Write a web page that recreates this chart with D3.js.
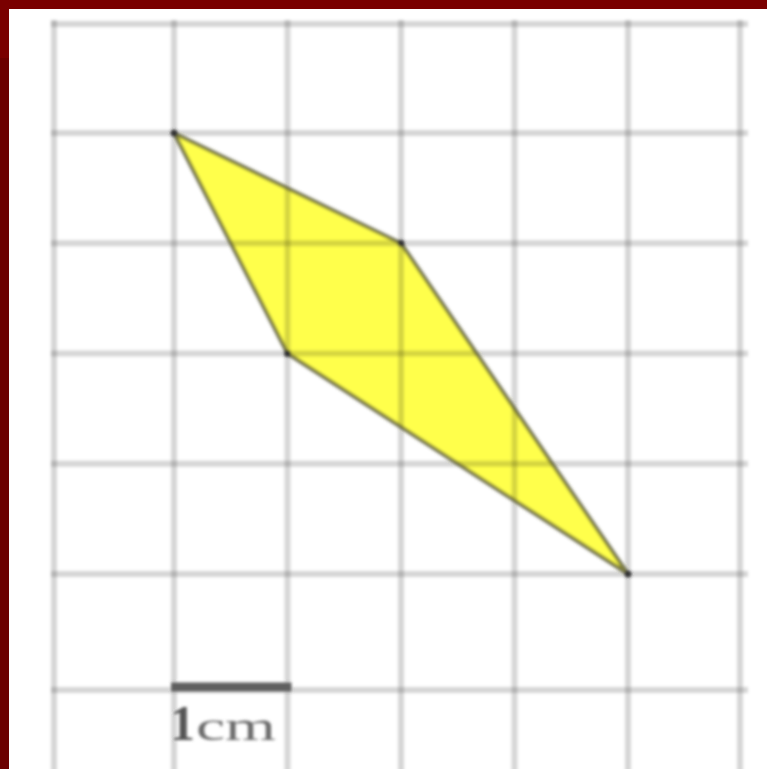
<!DOCTYPE html>
<html>
<head>
<meta charset="utf-8">
<script src="https://cdn.jsdelivr.net/npm/d3@7"></script>
<style>
  html, body { margin: 0; padding: 0; background: #fff; }
  svg { display: block; }
</style>
</head>
<body>
<div id="chartFrame"></div>
<script>
const width = 767
const height = 769
// grid positions in cm
const gridCols = [0, 1, 2, 3, 4, 5, 6]
const gridRows = [0, 1, 2, 3, 4, 5, 6]
// quadrilateral vertices (grid units)
const shapeX = [1, 3, 5, 2]
const shapeY = [1, 2, 5, 3]
// scale bar
const barStart = 1
const barEnd = 2
const barRow = 6
const barLabel = '1'
const barUnit = 'cm'

// the scan is a bit uneven, so the outer cells are slightly wider
const x = d3.scaleLinear().domain([0, 1, 5, 6]).range([54, 174, 628, 740])
const y = d3.scaleLinear().domain([0, 1, 5, 6]).range([24, 133, 574, 690])

let svg = d3.select('#chartFrame')
  .append('svg')
  .attr('width', width)
  .attr('height', height)

let defs = svg.append('defs')
defs.append('filter')
  .attr('id', 'soft')
  .attr('x', '-5%').attr('y', '-5%')
  .attr('width', '110%').attr('height', '110%')
  .append('feGaussianBlur')
  .attr('stdDeviation', 1.4)

let g = svg.append('g').attr('filter', 'url(#soft)')

// yellow shape first, grid drawn over it
let pts = shapeX.map((v, i) => [x(v), y(shapeY[i])])
g.append('path')
  .datum(pts)
  .attr('d', d3.line().curve(d3.curveLinearClosed))
  .style('fill', '#ffff4c')
  .style('stroke', 'none')

// grid
g.append('g')
  .selectAll('line')
  .data(gridCols)
  .enter()
  .append('line')
  .attr('x1', d => x(d))
  .attr('x2', d => x(d))
  .attr('y1', y(0) - 4)
  .attr('y2', height + 5)
  .style('stroke', '#000')
  .style('stroke-opacity', 0.16)
  .style('stroke-width', 6)
g.append('g')
  .selectAll('line')
  .data(gridRows)
  .enter()
  .append('line')
  .attr('x1', x(0) - 3)
  .attr('x2', x(6) + 8)
  .attr('y1', d => y(d))
  .attr('y2', d => y(d))
  .style('stroke', '#000')
  .style('stroke-opacity', 0.16)
  .style('stroke-width', 6)

// shape outline
g.append('path')
  .datum(pts)
  .attr('d', d3.line().curve(d3.curveLinearClosed))
  .style('fill', 'none')
  .style('stroke', '#50502c')
  .style('stroke-opacity', 0.75)
  .style('stroke-width', 4)
  .style('stroke-linejoin', 'round')
g.append('g')
  .selectAll('circle')
  .data(pts)
  .enter()
  .append('circle')
  .attr('cx', d => d[0])
  .attr('cy', d => d[1])
  .attr('r', 3.5)
  .style('fill', '#333')

// scale bar
g.append('line')
  .attr('x1', x(barStart) - 3)
  .attr('x2', x(barEnd) + 4)
  .attr('y1', y(barRow) - 3)
  .attr('y2', y(barRow) - 3)
  .style('stroke', '#5e5e5e')
  .style('stroke-width', 9)
let label = g.append('text')
  .attr('x', x(barStart) - 4)
  .attr('y', 740)
  .style('font-family', 'Liberation Serif, serif')
  .style('fill', '#555')
label.append('tspan')
  .style('font-size', '50px')
  .style('font-weight', 'bold')
  .text(barLabel)
label.append('tspan')
  .attr('dx', 1)
  .attr('textLength', 80)
  .attr('lengthAdjust', 'spacingAndGlyphs')
  .style('font-size', '40px')
  .style('fill', '#6a6a6a')
  .text(barUnit)

// dark red frame on top and left
svg.append('rect').attr('x', 0).attr('y', 0).attr('width', width).attr('height', 9).style('fill', '#7a0000')
svg.append('rect').attr('x', 0).attr('y', 0).attr('width', 9).attr('height', 58).style('fill', '#7a0000')
svg.append('rect').attr('x', 0).attr('y', 58).attr('width', 9).attr('height', height - 58).style('fill', '#6c0000')
</script>
</body>
</html>
